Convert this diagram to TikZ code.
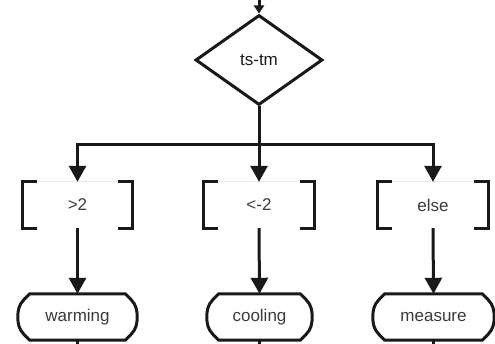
\documentclass[tikz,border=0pt]{standalone}
\usepackage{fontspec}
\setmainfont{Liberation Sans}
\usetikzlibrary{arrows.meta,shapes.geometric}
\definecolor{txt}{HTML}{3A3A3A}
\newcommand\termdraw[1]{%
  \draw[ln] ([shift={(12pt,0pt)}]#1.north west) -- ([shift={(-12pt,0pt)}]#1.north east)
    -- ([shift={(-6pt,-6pt)}]#1.north east)
    .. controls ([shift={(-1pt,-11pt)}]#1.north east) and ([shift={(0pt,-17pt)}]#1.north east) .. (#1.east)
    .. controls ([shift={(0pt,17pt)}]#1.south east) and ([shift={(-1pt,11pt)}]#1.south east) .. ([shift={(-6pt,6pt)}]#1.south east)
    -- ([shift={(-12pt,0pt)}]#1.south east)
    -- ([shift={(12pt,0pt)}]#1.south west)
    -- ([shift={(6pt,6pt)}]#1.south west)
    .. controls ([shift={(1pt,11pt)}]#1.south west) and ([shift={(0pt,17pt)}]#1.south west) .. (#1.west)
    .. controls ([shift={(0pt,-17pt)}]#1.north west) and ([shift={(1pt,-11pt)}]#1.north west) .. ([shift={(6pt,-6pt)}]#1.north west)
    -- cycle;}
\newcommand\brackdraw[1]{%
  \draw[gray!18, line width=1pt] (#1.north west) -- (#1.north east);
  \draw[ln] ([shift={(14pt,0pt)}]#1.north west) -- (#1.north west) -- (#1.south west) -- ([shift={(14pt,0pt)}]#1.south west);
  \draw[ln] ([shift={(-14pt,0pt)}]#1.north east) -- (#1.north east) -- (#1.south east) -- ([shift={(-14pt,0pt)}]#1.south east);}
\begin{document}
\begin{tikzpicture}[x=1pt,y=-1pt,
  ln/.style={line width=3pt, black!90, line join=miter},
  arr/.style={ln, -{Triangle[width=17pt,length=16pt]}},
  lbl/.style={inner sep=0pt, text=txt, font=\fontsize{17}{20}\selectfont},
  brack/.style={lbl, minimum height=46pt, minimum width=110pt},
  term/.style={lbl, minimum height=46pt}]
\useasboundingbox (0,0) rectangle (495,344);
\node[lbl, draw, ln, diamond, minimum width=127pt, minimum height=90pt, aspect=1.41] (d) at (259,60) {ts-tm};
\coordinate (top) at (259,0);
\draw[ln, -{Triangle[width=10pt,length=8pt]}] (top) -- (d.north);
\coordinate (j) at (259,145);
\node[brack, minimum width=109pt] (b1) at (77.5,205) {>2};
\node[brack] (b2) at (259,205) {<-2};
\node[brack] (b3) at (433,205) {else};
\brackdraw{b1}\brackdraw{b2}\brackdraw{b3}
\draw[arr] (d.south) -- (b2.north);
\draw[arr] (j) -| (b1.north);
\draw[arr] (j) -| (b3.north);
\node[term, minimum width=119pt] (t1) at (77.5,317) {warming};
\node[term, minimum width=105pt] (t2) at (259.5,317) {cooling};
\node[term, minimum width=121pt] (t3) at (433.5,317) {measure};
\termdraw{t1}\termdraw{t2}\termdraw{t3}
\draw[arr] (b1.south) -- (t1.north);
\draw[arr] (b2.south) -- (t2.north);
\draw[arr] (b3.south) -- (t3.north);
\coordinate (e1) at (77.5,344);
\coordinate (e2) at (259.5,344);
\coordinate (e3) at (433.5,344);
\draw[ln] (t1.south) -- (e1);
\draw[ln] (t2.south) -- (e2);
\draw[ln] (t3.south) -- (e3);
\end{tikzpicture}
\end{document}
